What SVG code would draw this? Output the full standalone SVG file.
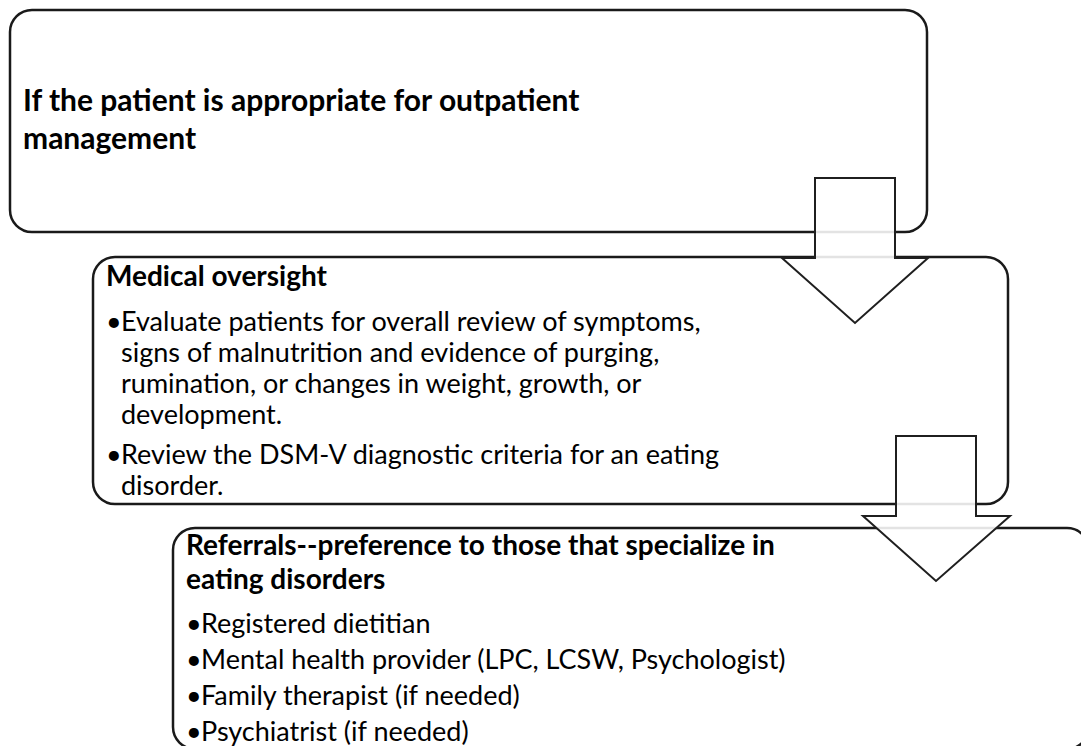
<svg xmlns="http://www.w3.org/2000/svg" width="1081" height="746" viewBox="0 0 1081 746">
<style>
.box{fill:#fff;stroke:#1a1a1a;stroke-width:2.5}
.arrow{fill:#fff;fill-opacity:0.88;stroke:#1f1f1f;stroke-width:2;stroke-linejoin:miter}
.h1{font-family:Lato,"Liberation Sans",sans-serif;font-weight:bold;font-size:30px;fill:#000}
.h{font-family:Lato,"Liberation Sans",sans-serif;font-weight:bold;font-size:28px;fill:#000}
.t{font-family:Lato,"Liberation Sans",sans-serif;font-size:27px;fill:#000}
</style>
<rect width="1081" height="746" fill="#fff"/>
<g id="node1">
<rect class="box" x="10" y="10" width="917" height="222" rx="22" ry="22"/>
<text class="h1" x="23" y="111">If the patient is appropriate for outpatient</text>
<text class="h1" x="23" y="149">management</text>
</g>
<g id="node2">
<rect class="box" x="93" y="257" width="915" height="247" rx="22" ry="22"/>
<text class="h" x="106" y="286">Medical oversight</text>
<text class="t" x="106" y="331">•</text>
<text class="t" x="121" y="331">Evaluate patients for overall review of symptoms,</text>
<text class="t" x="121" y="362">signs of malnutrition and evidence of purging,</text>
<text class="t" x="121" y="393">rumination, or changes in weight, growth, or</text>
<text class="t" x="121" y="424">development.</text>
<text class="t" x="106" y="464">•</text>
<text class="t" x="121" y="464">Review the DSM-V diagnostic criteria for an eating</text>
<text class="t" x="121" y="495">disorder.</text>
</g>
<g id="node3">
<rect class="box" x="173" y="528" width="916" height="221" rx="22" ry="22"/>
<text class="h" x="186" y="555">Referrals--preference to those that specialize in</text>
<text class="h" x="186" y="589">eating disorders</text>
<text class="t" x="186" y="633">•</text>
<text class="t" x="201" y="633">Registered dietitian</text>
<text class="t" x="186" y="669">•</text>
<text class="t" x="201" y="669">Mental health provider (LPC, LCSW, Psychologist)</text>
<text class="t" x="186" y="705">•</text>
<text class="t" x="201" y="705">Family therapist (if needed)</text>
<text class="t" x="186" y="741">•</text>
<text class="t" x="201" y="741">Psychiatrist (if needed)</text>
</g>
<g id="connectors">
<polygon class="arrow" points="815,178 895,178 895,258 928,258 855,323 782,258 815,258"/>
<polygon class="arrow" points="896,436 976,436 976,516 1010,516 936,581 863,516 896,516"/>
</g>
</svg>
